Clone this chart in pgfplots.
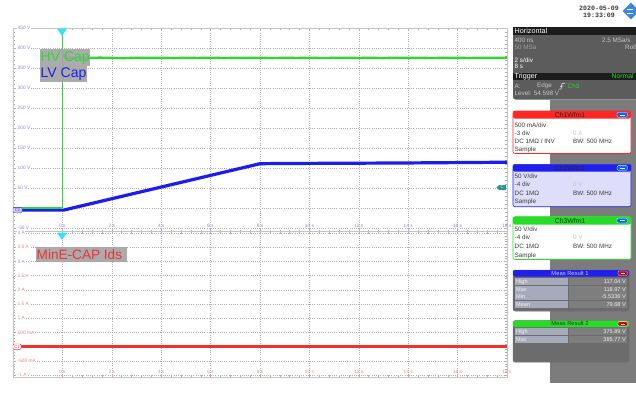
\documentclass[border=0pt]{standalone}
\usepackage{pgfplots}
\pgfplotsset{compat=1.18}
\usepackage{fontspec}
\setmainfont{Liberation Sans}
\newfontfamily\monof{Liberation Mono}
\usetikzlibrary{shapes.geometric}
\newcommand{\fs}[1]{\fontsize{#1}{#1}\selectfont}
\definecolor{gridc}{HTML}{AFAFAF}
\definecolor{frc}{HTML}{C4C4C4}
\definecolor{hvg}{HTML}{2ED82E}
\definecolor{lvb}{HTML}{1C1CEE}
\definecolor{idr}{HTML}{F23030}
\definecolor{tickb}{HTML}{8484F0}
\definecolor{tickr}{HTML}{F08080}
\definecolor{cyanm}{HTML}{30E4F4}
\definecolor{lblbox}{HTML}{A2A2A2}
\definecolor{panelg}{HTML}{7C7C7C}
\definecolor{hbody}{HTML}{5C5C5C}
\definecolor{hhead}{HTML}{1C1C1C}
\definecolor{chred}{HTML}{FF2626}
\definecolor{chblue}{HTML}{2020EE}
\definecolor{chgreen}{HTML}{26DD26}
\definecolor{lav}{HTML}{DEDEFA}
\definecolor{txtd}{HTML}{3A3A3A}
\definecolor{txtl}{HTML}{C8C8C8}
\definecolor{txtm}{HTML}{C4C4C4}
\definecolor{measbg}{HTML}{6C6C6C}
\definecolor{cellL}{HTML}{A6AABA}
\definecolor{cellV}{HTML}{7E7E7E}
\definecolor{tealm}{HTML}{2A9494}
\definecolor{rsblue}{HTML}{3A86E0}

\pgfplotsset{
  osc/.style={
    scale only axis, width=494pt,
    xmin=-2, xmax=18,
    xtick={0,2,4,6,8,10,12,14,16,18},
    xticklabels={0 s,2 s,4 s,6 s,8 s,10 s,12 s,14 s,16 s,18 s},
    grid=major,
    major grid style={gridc, dash pattern=on 0.8pt off 1.4pt, line width=0.5pt},
    axis line style={frc, line width=0.7pt},
    tick align=inside,
    minor x tick num=4, minor y tick num=4,
    major tick length=2pt, minor tick length=1.8pt,
    tick style={gridc, line width=0.4pt},
    ticklabel style={font=\fs{4.8}, inner sep=0.5pt},
    /pgf/number format/assume math mode=true,
    xticklabel style={anchor=south, yshift=3pt},
    yticklabel style={anchor=west, xshift=4pt, fill=white},
  }
}

\newcommand{\ptext}[4]{\node[anchor=west, inner sep=0pt, text=#3, font=\fs{6.3}] at (#1,#2) {#4};}
\newcommand{\measrow}[3]{%
  \fill[cellL] (515,{#1-3.3}) rectangle (568,{#1+3.3});
  \fill[cellV] (569,{#1-3.3}) rectangle (627,{#1+3.3});
  \node[anchor=west, inner sep=0pt, text=white!90!gray, font=\fs{5.6}] at (516,#1) {#2};
  \node[anchor=east, inner sep=0pt, text=white!85!gray, font=\fs{5.6}] at (626,#1) {#3};}

\begin{document}
\begin{tikzpicture}
\useasboundingbox (0,0) rectangle (636pt,-397pt);
\fill[white] (0,0) rectangle (636pt,-397pt);
\begin{scope}[x=1pt,y=-1pt]
\fill[panelg] (550,100) rectangle (636,383);
\end{scope}

% ---------- top panel ----------
\begin{axis}[osc, at={(13pt,-28.3pt)}, anchor=north west, height=203pt,
  ymin=-57.5, ymax=450,
  ytick={-50,0,50,100,150,200,250,300,350,400,450},
  yticklabels={-50 V,,50 V,100 V,150 V,200 V,250 V,300 V,350 V,400 V,450 V},
  ticklabel style={text=tickb}]
\addplot[hvg, line width=0.5pt] coordinates {(0,0) (0,448)};
\addplot[hvg, line width=2.4pt] coordinates {
(0.02,383) (0.1,377) (0.5,376.5) (1,375.8) (1.5,376.6) (2,376) (2.5,375.5) (3,376.4)
(3.5,375.9) (4,376.3) (4.5,375.6) (5,376.2) (5.5,375.8) (6,376.5) (6.5,375.7) (7,376.1)
(7.5,375.9) (8,376.3) (8.5,375.6) (9,376.2) (9.5,375.8) (10,376.4) (10.5,375.7) (11,376)
(11.5,376.3) (12,375.8) (12.5,376.2) (13,375.6) (13.5,376.4) (14,375.9) (14.5,376.1)
(15,375.7) (15.5,376.3) (16,376) (16.5,375.8) (17,376.2) (17.5,375.9) (18,376.1)};
\addplot[lvb, line width=3.2pt] coordinates {
(-2,-4.5) (0.05,-4.5) (8.0,111.5) (8.5,111.8) (10,112.3) (12,112.8) (14,113.4) (16,114.3) (18,115.2)};
\addplot[hvg, line width=1.6pt] coordinates {(-2,1.2) (-0.02,1.2)};
\end{axis}

% ---------- bottom panel ----------
\begin{axis}[osc, at={(13pt,-231.7pt)}, anchor=north west, height=145.4pt,
  ymin=-1.07, ymax=4.05,
  ytick={-1,-0.5,0,0.5,1,1.5,2,2.5,3,3.5,4},
  yticklabels={-1 A,-500 mA,,500 mA,1 A,1.5 A,2 A,2.5 A,3 A,3.5 A,4 A},
  ticklabel style={text=tickr}]
\addplot[idr, line width=2.5pt] coordinates {(-2,0) (18,0)};
\end{axis}

\begin{scope}[x=1pt,y=-1pt]
% trigger markers
\fill[cyanm] (57,28.5) -- (67,28.5) -- (62,36) -- cycle;
\fill[cyanm] (57,232.5) -- (67,232.5) -- (62,240) -- cycle;
% channel markers
\draw[chblue, fill=blue!18, line width=0.4pt, rounded corners=1pt] (13,207.3) rectangle (22,212.7);
\node[text=chblue, font=\fs{4}, inner sep=0] at (17.5,210) {C2};
\draw[chred, fill=white, line width=0.4pt, rounded corners=1pt] (13,344) rectangle (21,349.3);
\node[text=chred, font=\fs{4}, inner sep=0] at (17,346.7) {C1};
\fill[tealm] (496.5,187.5) -- (499,185) -- (506,185) -- (506,190) -- (499,190) -- cycle;
\node[text=white, font=\fs{4}, inner sep=0] at (502,187.5) {C};
% trace labels
\fill[lblbox, opacity=0.9] (40,49) rectangle (90,66);
\node[anchor=west, inner sep=0, text=hvg, font=\fs{14}] at (40.5,57.8) {HV Cap};
\fill[lblbox, opacity=0.9] (40,66) rectangle (87,82);
\node[anchor=west, inner sep=0, text=lvb, font=\fs{14}] at (40.5,74.3) {LV Cap};
\fill[lblbox, opacity=0.9] (36,247) rectangle (127,262);
\node[anchor=west, inner sep=0, text=idr, font=\fs{13.6}] at (36.5,254.8) {MinE-CAP Ids};

% date / logo
\node[text=txtd, font=\monof\bfseries\fs{6.6}, inner sep=0] at (599,8.3) {2020-05-09};
\node[text=txtd, font=\monof\bfseries\fs{6.6}, inner sep=0] at (599,15.5) {19:33:09};
\node[diamond, fill=rsblue, minimum size=17pt, inner sep=0] at (631,11) {};
\draw[white, line width=0.8pt] (627,9) -- (633,9) (627,13) -- (633,13);

% Horizontal box
\fill[hbody, rounded corners=2.5pt] (513,27) rectangle (645,99.5);
\fill[hhead] (513,27) rectangle (645,35);
\node[anchor=west, inner sep=0, text=white, font=\fs{7.2}] at (514.5,31) {Horizontal};
\ptext{514.5}{40.7}{txtl}{400 ns}
\ptext{602}{40.7}{txtl}{2.5 MSa/s}
\ptext{514.5}{47.3}{gray!75}{50 MSa}
\ptext{625}{47.3}{txtl}{Roll}
\ptext{514.5}{60}{white}{2 s/div}
\ptext{514.5}{66.7}{white}{8 s}
\fill[hhead] (513,72.7) rectangle (645,80);
\node[anchor=west, inner sep=0, text=white, font=\fs{7.2}] at (514.5,76.3) {Trigger};
\node[anchor=west, inner sep=0, text=hvg, font=\fs{6.8}] at (611.5,76.3) {Normal};
\ptext{514.5}{86}{txtl}{A:}
\ptext{537}{86}{txtl}{Edge}
\draw[white, line width=0.5pt] (558.5,89) -- (561,89) -- (562,83.5) -- (565,83.5);
\draw[white, line width=0.4pt] (560,86.5) -- (561.8,85.8) -- (563.2,86.5);
\ptext{567.5}{86}{hvg}{Ch3}
\ptext{514.5}{93.3}{txtl}{Level: 54.598 V}

% Ch1 box
\draw[chred, fill=white, line width=0.6pt, rounded corners=2pt] (513,111) rectangle (631,153.5);
\fill[chred, rounded corners=2pt] (513,111) rectangle (631,118.5);
\node[text=black!85, font=\fs{6.8}, inner sep=0] at (570,114.8) {Ch1Wfm1};
\draw[white, fill=blue!60!cyan, line width=0.3pt, rounded corners=1.2pt] (617,112.3) rectangle (627.5,117.2);
\draw[white, line width=0.6pt] (620,114.8) -- (624.5,114.8);
\ptext{514.5}{125}{txtd}{500 mA/div}
\ptext{514.5}{133}{txtd}{-3 div}
\ptext{573}{133}{txtm}{0 A}
\ptext{514.5}{141.5}{txtd}{DC 1MΩ / INV}
\ptext{573}{141.5}{txtd}{BW: 500 MHz}
\ptext{514.5}{150}{txtd}{Sample}

% Ch2 box
\draw[chblue, fill=lav, line width=0.6pt, rounded corners=2pt] (513,164.3) rectangle (631,206.7);
\fill[chblue, rounded corners=2pt] (513,164.3) rectangle (631,171.7);
\node[text=black!85, font=\fs{6.8}, inner sep=0] at (570,168) {Ch2Wfm1};
\draw[white, fill=blue!60!cyan, line width=0.3pt, rounded corners=1.2pt] (617,165.6) rectangle (627.5,170.4);
\draw[white, line width=0.6pt] (620,168) -- (624.5,168);
\ptext{514.5}{176.7}{txtd}{50 V/div}
\ptext{514.5}{184.5}{txtd}{-4 div}
\ptext{573}{184.5}{txtm}{0 V}
\ptext{514.5}{193.3}{txtd}{DC 1MΩ}
\ptext{573}{193.3}{txtd}{BW: 500 MHz}
\ptext{514.5}{201.7}{txtd}{Sample}

% Ch3 box
\draw[chgreen, fill=white, line width=0.6pt, rounded corners=2pt] (513,216.7) rectangle (631,259.5);
\fill[chgreen, rounded corners=2pt] (513,216.7) rectangle (631,224.5);
\node[text=black!85, font=\fs{6.8}, inner sep=0] at (570,220.6) {Ch3Wfm1};
\draw[white, fill=blue!60!cyan, line width=0.3pt, rounded corners=1.2pt] (617,218.2) rectangle (627.5,223);
\draw[white, line width=0.6pt] (620,220.6) -- (624.5,220.6);
\ptext{514.5}{229}{txtd}{50 V/div}
\ptext{514.5}{237.5}{txtd}{-4 div}
\ptext{573}{237.5}{txtm}{0 V}
\ptext{514.5}{246.5}{txtd}{DC 1MΩ}
\ptext{573}{246.5}{txtd}{BW: 500 MHz}
\ptext{514.5}{255.5}{txtd}{Sample}

% Meas Result 1
\draw[black!55, fill=measbg, line width=0.5pt, rounded corners=2pt] (513,270) rectangle (629,311);
\fill[chblue, rounded corners=2pt] (513,270) rectangle (629,276.5);
\node[text=white!80!blue, font=\fs{5.8}, inner sep=0] at (570,273.3) {Meas Result 1};
\draw[white, fill=red!85!black, line width=0.3pt, rounded corners=1pt] (618,271) rectangle (627.5,275.5);
\draw[white, line width=0.6pt] (620.5,273.3) -- (625,273.3);
\measrow{281.7}{High}{117.04 V}
\measrow{289.2}{Max}{118.97 V}
\measrow{296.7}{Min}{-5.5336 V}
\measrow{304.2}{Mean}{79.68 V}

% Meas Result 2
\draw[black!55, fill=measbg, line width=0.5pt, rounded corners=2pt] (513,320.7) rectangle (629,362);
\fill[chgreen, rounded corners=2pt] (513,320.7) rectangle (629,327);
\node[text=black!80, font=\fs{5.8}, inner sep=0] at (570,323.9) {Meas Result 2};
\draw[white, fill=red!85!black, line width=0.3pt, rounded corners=1pt] (618,321.6) rectangle (627.5,326.1);
\draw[white, line width=0.6pt] (620.5,323.9) -- (625,323.9);
\measrow{331.7}{High}{375.89 V}
\measrow{339.7}{Max}{385.77 V}
\end{scope}
\end{tikzpicture}
\end{document}
